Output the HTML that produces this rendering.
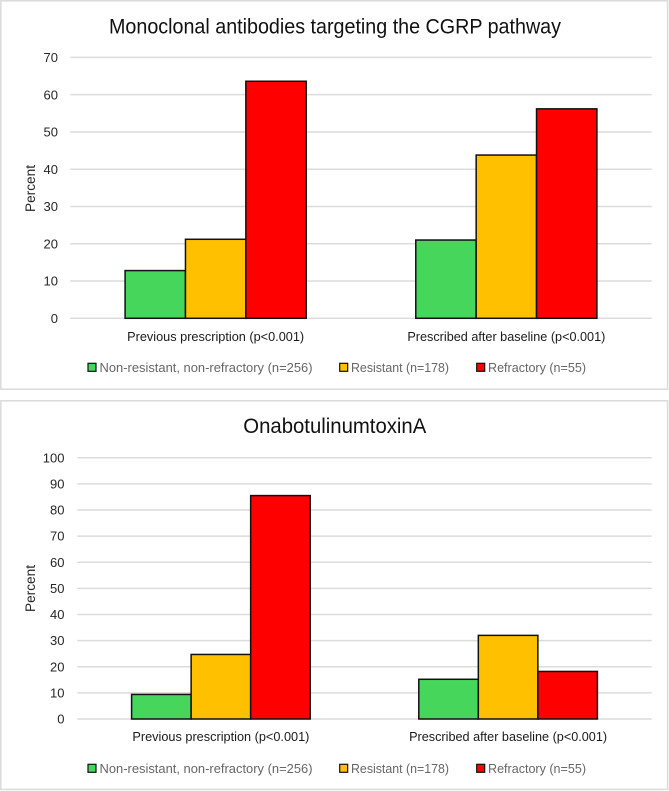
<!DOCTYPE html>
<html lang="en">
<head>
<meta charset="utf-8">
<title>Monoclonal antibodies and OnabotulinumtoxinA prescription charts</title>
<style>
  html, body { margin: 0; padding: 0; background: #fff; }
  svg { display: block; font-family: "Liberation Sans", Arial, sans-serif; }
  .tick { font-size: 13px; fill: #262626; }
  .cat { font-size: 13px; fill: #1a1a1a; }
  .legend { font-size: 13px; fill: #666; }
  .axis-title { font-size: 13.4px; fill: #262626; }
  .title { font-size: 21px; fill: #111; }
</style>
</head>
<body>
<svg id="figure" xmlns="http://www.w3.org/2000/svg" width="669" height="791" viewBox="0 0 669 791">
  <rect x="0" y="0" width="669" height="791" fill="#fff"/>

  <g id="chart-cgrp">
    <rect x="0.8" y="0.8" width="666.8" height="388.4" fill="#fff" stroke="#dcdcdc" stroke-width="1.6"/>
    <text class="title" x="109" y="33.5" textLength="452" lengthAdjust="spacingAndGlyphs">Monoclonal antibodies targeting the CGRP pathway</text>
    <text class="axis-title" transform="translate(35 212) rotate(-90)" textLength="47" lengthAdjust="spacingAndGlyphs">Percent</text>
    <g id="cgrp-grid"></g>
    <g id="cgrp-ticks"></g>
    <g id="cgrp-bars"></g>
    <g id="cgrp-cats"></g>
    <g>
      <g>
        <rect x="88" y="363.3" width="8" height="8" fill="#47d65c" stroke="#111" stroke-width="1.2"/>
        <text class="legend" x="99.5" y="372" textLength="213" lengthAdjust="spacingAndGlyphs">Non-resistant, non-refractory (n=256)</text>
      </g>
      <g>
        <rect x="339.7" y="363.3" width="8" height="8" fill="#ffc000" stroke="#111" stroke-width="1.2"/>
        <text class="legend" x="351" y="372" textLength="98" lengthAdjust="spacingAndGlyphs">Resistant (n=178)</text>
      </g>
      <g>
        <rect x="476.7" y="363.3" width="8" height="8" fill="#ff0000" stroke="#111" stroke-width="1.2"/>
        <text class="legend" x="488" y="372" textLength="98" lengthAdjust="spacingAndGlyphs">Refractory (n=55)</text>
      </g>
    </g>
  </g>

  <g id="chart-botox">
    <rect x="0.8" y="400.8" width="666.8" height="388.6" fill="#fff" stroke="#dcdcdc" stroke-width="1.6"/>
    <text class="title" x="243.3" y="433" textLength="183" lengthAdjust="spacingAndGlyphs">OnabotulinumtoxinA</text>
    <text class="axis-title" transform="translate(35 612) rotate(-90)" textLength="47" lengthAdjust="spacingAndGlyphs">Percent</text>
    <g id="botox-grid"></g>
    <g id="botox-ticks"></g>
    <g id="botox-bars"></g>
    <g id="botox-cats"></g>
    <g>
      <g>
        <rect x="88" y="764.3" width="8" height="8" fill="#47d65c" stroke="#111" stroke-width="1.2"/>
        <text class="legend" x="99.5" y="773" textLength="213" lengthAdjust="spacingAndGlyphs">Non-resistant, non-refractory (n=256)</text>
      </g>
      <g>
        <rect x="339.7" y="764.3" width="8" height="8" fill="#ffc000" stroke="#111" stroke-width="1.2"/>
        <text class="legend" x="351" y="773" textLength="98" lengthAdjust="spacingAndGlyphs">Resistant (n=178)</text>
      </g>
      <g>
        <rect x="476.7" y="764.3" width="8" height="8" fill="#ff0000" stroke="#111" stroke-width="1.2"/>
        <text class="legend" x="488" y="773" textLength="98" lengthAdjust="spacingAndGlyphs">Refractory (n=55)</text>
      </g>
    </g>
  </g>
</svg>

<script>
// Chart data
var categories = ["Previous prescription (p<0.001)", "Prescribed after baseline (p<0.001)"];
var seriesNames = ["non-resistant", "resistant", "refractory"];

var cgrpTicks = [0, 10, 20, 30, 40, 50, 60, 70];
var cgrpNonResistant = [12.8, 21.0];
var cgrpResistant = [21.2, 43.8];
var cgrpRefractory = [63.6, 56.2];

var botoxTicks = [0, 10, 20, 30, 40, 50, 60, 70, 80, 90, 100];
var botoxNonResistant = [9.4, 15.2];
var botoxResistant = [24.7, 32.0];
var botoxRefractory = [85.5, 18.2];

var seriesColors = ["#47d65c", "#ffc000", "#ff0000"];
var SVG_NS = "http://www.w3.org/2000/svg";

function make(tag, parent, attrs, text) {
  var el = document.createElementNS(SVG_NS, tag);
  for (var k in attrs) el.setAttribute(k, attrs[k]);
  if (text !== undefined) el.textContent = text;
  parent.appendChild(el);
  return el;
}

function drawChart(prefix, layout, ticks, series) {
  var yMax = ticks[ticks.length - 1];
  var bandWidth = (layout.right - layout.left) / categories.length;
  var barWidth = bandWidth * layout.barFraction;

  function yScale(v) {
    return layout.base - (v / yMax) * (layout.base - layout.top);
  }
  function xBand(i) {
    return layout.left + bandWidth * i;
  }
  function xBar(i, s) {
    return xBand(i) + bandWidth / 2 - barWidth * series.length / 2 + barWidth * s;
  }

  var grid = document.getElementById(prefix + "-grid");
  var tickGroup = document.getElementById(prefix + "-ticks");
  ticks.forEach(function (t) {
    var line = make("line", grid, {
      x1: layout.left, x2: layout.right, y1: yScale(t), y2: yScale(t),
      stroke: "#dcdcdc", "stroke-width": 1.5
    });
    
    
    var label = make("text", tickGroup, {
      x: layout.tickX, y: yScale(t) + 4.6, "text-anchor": "end", "class": "tick"
    }, String(t));
    
    
  });

  var barGroup = document.getElementById(prefix + "-bars");
  series.forEach(function (values, s) {
    values.forEach(function (v, i) {
      var bar = make("rect", barGroup, {
        x: xBar(i, s), y: yScale(v), width: barWidth, height: yScale(0) - yScale(v),
        fill: seriesColors[s], stroke: "#111", "stroke-width": 1.5
      });
      
      
    });
  });

  var catGroup = document.getElementById(prefix + "-cats");
  categories.forEach(function (c, i) {
    var cat = make("text", catGroup, {
      x: xBand(i) + bandWidth / 2, y: layout.catY, "text-anchor": "middle", "class": "cat",
      textLength: layout.catWidths[i], lengthAdjust: "spacingAndGlyphs"
    }, c);
    
    
  });
}

drawChart("cgrp",
  { left: 70.3, right: 651.7, top: 57.4, base: 318.3, barFraction: 0.2077, tickX: 58, catY: 341, catWidths: [177, 198] },
  cgrpTicks, [cgrpNonResistant, cgrpResistant, cgrpRefractory]);

drawChart("botox",
  { left: 77.3, right: 651.7, top: 457.7, base: 719, barFraction: 0.2073, tickX: 64.5, catY: 741, catWidths: [177, 198] },
  botoxTicks, [botoxNonResistant, botoxResistant, botoxRefractory]);
</script>
</body>
</html>
